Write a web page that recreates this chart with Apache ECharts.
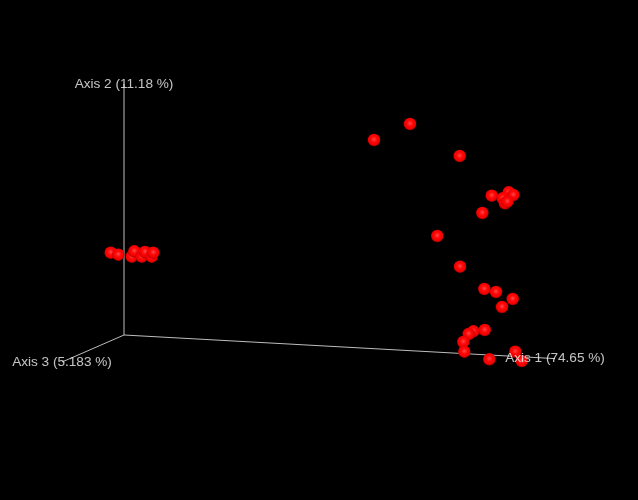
<!DOCTYPE html>
<html>
<head>
<meta charset="utf-8">
<script src="https://cdn.jsdelivr.net/npm/echarts@6/dist/echarts.min.js"></script>
<style>
html,body{margin:0;padding:0;background:#000;}
#chart{width:638px;height:500px;}
</style>
</head>
<body>
<div id="chart"></div>
<script>
// Projected (screen-plane) positions of the samples
var samplePoints = [
  [110.7,252.7],[118.3,254.7],[131.7,256.7],[134.3,251.3],[141.7,256.7],[145,252],[151.7,256.7],[153.3,252.7],
  [374,140],[410,124],[459.7,156],[491.7,195.7],[508.7,192.3],[513.3,195],[502.7,198.3],[505,203.3],[507.3,201.7],[482.3,213],
  [437.3,236],[460,266.7],[484.3,289],[496,292],[512.7,299],[502,307],
  [484.7,330],[473.3,331.3],[468.7,334],[463.3,342],[464.3,351.7],[489.3,359.3],[515.3,351.7],[521.7,361]
];
// Projected axis origin and axis ends
var axisOrigin = [124,335];
var axisNames = ['Axis 1 (74.65 %)','Axis 2 (11.18 %)','Axis 3 (5.183 %)'];
var axisEnds = [[555,358.6],[124,84],[62,362]];

var series = [];
axisEnds.forEach(function(end, i){
  series.push({
    type:'line', data:[axisOrigin, end], symbol:'none', silent:true,
    lineStyle:{color:'#bdbdbd', width:1}, z:1, animation:false
  });
});
series.push({
  type:'scatter', data:samplePoints, symbolSize:12.5, z:3, animation:false,
  itemStyle:{
    opacity:1,
    color:{type:'radial', x:0.5, y:0.45, r:0.5, colorStops:[
      {offset:0, color:'#ff4a4a'},
      {offset:0.45, color:'#ff0808'},
      {offset:0.88, color:'#ee0000'},
      {offset:1, color:'#b40000'}
    ]}
  }
});
series.push({
  type:'scatter', z:5, symbolSize:0, animation:false, silent:true,
  data: axisEnds.map(function(e,i){ return {value:e, name:axisNames[i]}; }),
  label:{show:true, position:'inside', formatter:'{b}', color:'#f4f4f4',
    fontFamily:'Liberation Sans, Arial, sans-serif', fontSize:13.6}
});

var chart = echarts.init(document.getElementById('chart'));
chart.setOption({
  backgroundColor:'#000',
  grid:{left:0,right:0,top:0,bottom:0},
  xAxis:{type:'value', min:0, max:638, show:false},
  yAxis:{type:'value', min:0, max:500, inverse:true, show:false},
  series:series
});
</script>
</body>
</html>
